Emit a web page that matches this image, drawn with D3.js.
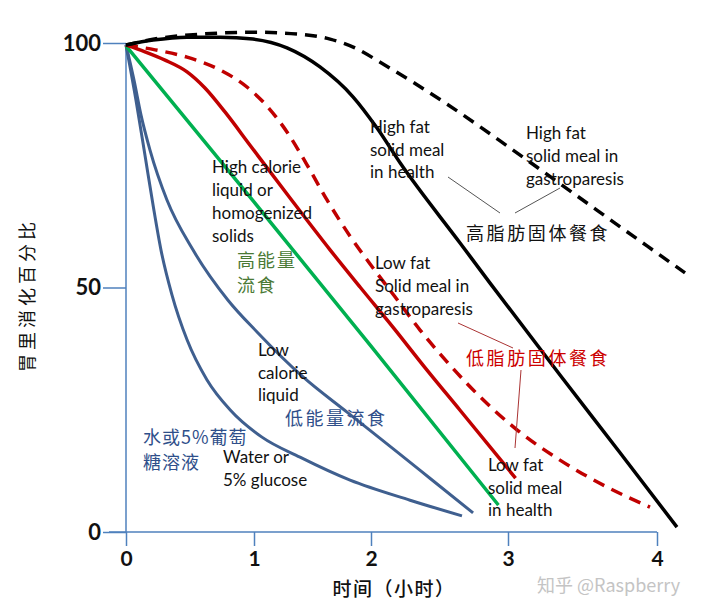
<!DOCTYPE html>
<html><head><meta charset="utf-8">
<script src="https://cdn.jsdelivr.net/npm/d3@7"></script>
<style>
html,body{margin:0;padding:0;background:#fff;}
svg{display:block;}
</style></head>
<body>
<svg id="c" width="720" height="607"></svg>
<script>
// ---- data (hours, % remaining in stomach) ----
const xTicks = [0, 1, 2, 3, 4];
const yTicks = [0, 50, 100];
const highFatHealth = [[0,99.6],[0.211,100.6],[0.477,101.2],[0.734,101.2],[0.992,100.8],[1.282,99.0],[1.564,95.1],[1.846,89.0],[2.044,82.6],[2.212,75.5],[2.65,59.1],[2.869,50.9],[3.349,32.1],[3.752,16.2],[4.134,1.0]];
const highFatGastro = [[0,99.6],[0.266,101.0],[0.578,101.8],[0.992,102.2],[1.393,101.8],[1.65,100.8],[1.863,99.0],[2.088,95.7],[2.555,87.5],[3.034,78.1],[3.483,68.3],[3.933,58.5],[4.188,53.0]];
const lowFatGastro = [[0,99.6],[0.227,98.6],[0.477,97.1],[0.734,94.5],[0.945,91.0],[1.111,87.1],[1.282,81.8],[1.453,75.1],[1.624,67.9],[1.821,60.5],[2.015,54.0],[2.175,48.1],[2.358,41.3],[2.555,34.8],[2.723,29.7],[3.06,20.9],[3.349,14.7],[3.664,9.2],[3.953,5.1]];
const lowFatHealth = [[0,99.6],[0.148,98.2],[0.305,96.5],[0.477,94.1],[0.617,90.8],[0.773,85.9],[0.969,79.1],[1.308,68.3],[1.65,57.7],[1.906,50.1],[2.16,41.9],[2.409,33.1],[2.65,24.9],[3.051,11.0]];
const highCalLiquid = [[0,99.4],[1,67.5],[2,38.0],[2.93,5.5]];
const lowCalLiquid = [[0,99.6],[0.0625,92.4],[0.117,85.3],[0.1875,78.1],[0.32,67.9],[0.523,57.7],[0.797,47.4],[1.026,40.9],[1.419,31.7],[1.795,24.5],[2.19,16.4],[2.43,11.0],[2.745,3.9]];
const water = [[0,99.6],[0.078,88.3],[0.148,77.1],[0.211,66.9],[0.273,57.7],[0.359,48.5],[0.477,39.3],[0.633,31.1],[0.8125,25.0],[1.068,19.4],[1.393,15.3],[1.821,10.6],[2.285,6.5],[2.664,3.3]];

// ---- layout ----
const svg = d3.select('#c');
const x = d3.scaleLinear().domain(xTicks).range([126, 254, 371, 508, 657]);
const y = d3.scaleLinear().domain([0, 100]).range([532, 43]);
const axisColor = '#4f81bd';
const numFont = 'Lato, "Open Sans", sans-serif';
const cjk = '"Noto Sans CJK SC", sans-serif';

// axes
const gx = svg.append('g').attr('transform', `translate(0,${y(0)})`)
  .call(d3.axisBottom(x).tickValues(xTicks).tickSize(14).tickPadding(5).tickFormat(d3.format('d')));
gx.select('.domain').remove();
gx.selectAll('.tick line').attr('stroke', axisColor).attr('stroke-width', 1.5);
gx.selectAll('.tick text').attr('font-family', numFont).attr('font-size', 21).attr('font-weight', 700).attr('fill', '#111');
svg.append('line').attr('x1', x(0) - 17).attr('x2', x(4)).attr('y1', y(0)).attr('y2', y(0))
  .attr('stroke', axisColor).attr('stroke-width', 1.5);

const gy = svg.append('g').attr('transform', `translate(${x(0)},0)`)
  .call(d3.axisLeft(y).tickValues(yTicks).tickSize(23).tickPadding(2).tickFormat(d3.format('d')));
gy.select('.domain').remove();
gy.selectAll('.tick line').attr('stroke', axisColor).attr('stroke-width', 1.5);
gy.selectAll('.tick text').attr('font-family', numFont).attr('font-size', 22).attr('font-weight', 700).attr('fill', '#111');
svg.append('line').attr('x1', x(0)).attr('x2', x(0)).attr('y1', y(0)).attr('y2', y(100))
  .attr('stroke', axisColor).attr('stroke-width', 1.5);

// curves
const line = d3.line().x(d => x(d[0])).y(d => y(d[1])).curve(d3.curveMonotoneX);
const series = [
  {d: water, c: '#3f5f8f', w: 3, dash: null},
  {d: lowCalLiquid, c: '#3f5f8f', w: 3, dash: null},
  {d: highCalLiquid, c: '#00b050', w: 3.5, dash: null},
  {d: lowFatHealth, c: '#c00000', w: 3.5, dash: null},
  {d: lowFatGastro, c: '#c00000', w: 3.5, dash: '12,8'},
  {d: highFatGastro, c: '#000', w: 3.5, dash: '12,8'},
  {d: highFatHealth, c: '#000', w: 3.5, dash: null},
];
series.forEach(s => {
  svg.append('path').attr('d', line(s.d)).attr('fill', 'none').attr('stroke', s.c)
    .attr('stroke-width', s.w).attr('stroke-dasharray', s.dash);
});

// leader lines
const leaders = [
  {x1: 448, y1: 177, x2: 500, y2: 213, c: '#555'},
  {x1: 515, y1: 213, x2: 560, y2: 188, c: '#555'},
  {x1: 458, y1: 323, x2: 513, y2: 348, c: '#a33'},
  {x1: 521, y1: 370, x2: 515, y2: 448, c: '#a33'},
];
leaders.forEach(l => svg.append('line').attr('x1', l.x1).attr('y1', l.y1).attr('x2', l.x2).attr('y2', l.y2)
  .attr('stroke', l.c).attr('stroke-width', 1));

// annotations
const enFont = 'Lato, "Open Sans", sans-serif';
const notes = [
  {x: 370, y: 133, lines: ['High fat', 'solid meal', 'in health'], c: '#111', f: enFont, s: 17, lh: 22.5},
  {x: 526, y: 139, lines: ['High fat', 'solid meal in', 'gastroparesis'], c: '#111', f: enFont, s: 17, lh: 23},
  {x: 212, y: 173, lines: ['High calorie', 'liquid or', 'homogenized', 'solids'], c: '#111', f: enFont, s: 17, lh: 23},
  {x: 375, y: 269, lines: ['Low fat', 'Solid meal in', 'gastroparesis'], c: '#111', f: enFont, s: 17, lh: 23},
  {x: 488, y: 471, lines: ['Low fat', 'solid meal', 'in health'], c: '#111', f: enFont, s: 17, lh: 22.5},
  {x: 258, y: 356, lines: ['Low', 'calorie', 'liquid'], c: '#111', f: enFont, s: 17, lh: 22.5},
  {x: 223, y: 463, lines: ['Water or', '5% glucose'], c: '#111', f: enFont, s: 17, lh: 23},
  {x: 466, y: 240, lines: ['高脂肪固体餐食'], c: '#111', f: cjk, s: 18, lh: 24, ls: 2.6},
  {x: 466, y: 365, lines: ['低脂肪固体餐食'], c: '#cc0000', f: cjk, s: 18, lh: 24, ls: 2.6},
  {x: 237, y: 267, lines: ['高能量', '流食'], c: '#4a7a35', f: cjk, s: 18, lh: 25, ls: 2},
  {x: 285, y: 425, lines: ['低能量流食'], c: '#2f4f8a', f: cjk, s: 18, lh: 24, ls: 2.5},
  {x: 143, y: 444, lines: ['水或5%葡萄', '糖溶液'], c: '#2f4f8a', f: cjk, s: 18, lh: 25, ls: 1},
];
notes.forEach(n => {
  const t = svg.append('text').attr('x', n.x).attr('y', n.y).attr('font-family', n.f)
    .attr('font-size', n.s).attr('fill', n.c).attr('letter-spacing', n.ls || 0);
  n.lines.forEach((ln, i) => t.append('tspan').attr('x', n.x).attr('y', n.y + i * n.lh).text(ln));
});

// axis titles
svg.append('text').attr('x', 394).attr('y', 596).attr('text-anchor', 'middle')
  .attr('font-family', cjk).attr('font-size', 19).attr('font-weight', 500).attr('letter-spacing', 1.5).attr('fill', '#111')
  .text('时间（小时）');
svg.append('text').attr('transform', 'translate(34,295) rotate(-90)').attr('text-anchor', 'middle')
  .attr('font-family', cjk).attr('font-size', 18).attr('letter-spacing', 4).attr('fill', '#111')
  .text('胃里消化百分比');

// watermark
svg.append('text').attr('x', 537).attr('y', 592).attr('font-family', cjk).attr('font-size', 18)
  .attr('fill', '#c4c4c4').text('知乎 @Raspberry');
</script>
</body></html>
